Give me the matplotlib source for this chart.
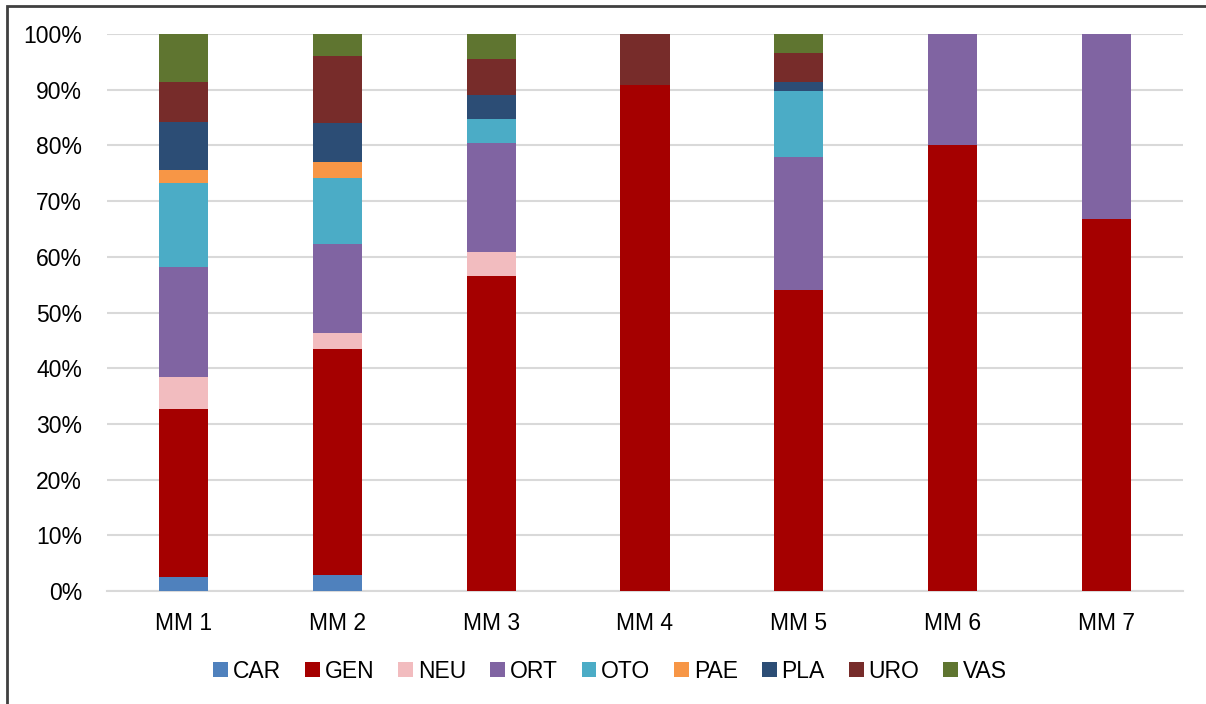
import matplotlib
matplotlib.use("Agg")
import matplotlib.pyplot as plt
import numpy as np
from matplotlib.patches import Rectangle
from matplotlib.ticker import PercentFormatter

plt.rcParams['font.family'] = ['Liberation Sans', 'DejaVu Sans']

categories = ["MM 1", "MM 2", "MM 3", "MM 4", "MM 5", "MM 6", "MM 7"]
specialties = ["CAR", "GEN", "NEU", "ORT", "OTO", "PAE", "PLA", "URO", "VAS"]

# share of procedures (%) per specialty, one list per specialty
CAR = [2.6, 2.8, 0, 0, 0, 0, 0]
GEN = [30.1, 40.7, 56.5, 90.9, 54.1, 80.0, 66.7]
NEU = [5.8, 2.8, 4.3, 0, 0, 0, 0]
ORT = [19.7, 16.0, 19.6, 0, 23.9, 20.0, 33.3]
OTO = [15.1, 11.9, 4.3, 0, 11.8, 0, 0]
PAE = [2.3, 2.9, 0, 0, 0, 0, 0]
PLA = [8.6, 6.9, 4.4, 0, 1.6, 0, 0]
URO = [7.1, 12.0, 6.5, 9.1, 5.2, 0, 0]
VAS = [8.7, 4.0, 4.4, 0, 3.4, 0, 0]

colors = ["#4f81bd", "#a50000", "#f2bcbf", "#8064a2", "#4bacc6",
          "#f79646", "#2c4d75", "#772c2a", "#5f7530"]

series = [CAR, GEN, NEU, ORT, OTO, PAE, PLA, URO, VAS]

fig = plt.figure(figsize=(12.06, 7.04), dpi=100)
ax = fig.add_axes([107 / 1206, 1 - 591 / 704, 1076 / 1206, 557 / 704])

x = np.arange(len(categories))
bottom = np.zeros(len(categories))
for name, vals, c in zip(specialties, series, colors):
    vals = np.array(vals, dtype=float)
    ax.bar(x, vals, 0.32, bottom=bottom, color=c, label=name, zorder=3)
    bottom += vals

ax.set_xlim(-0.5, len(categories) - 0.5)
ax.set_ylim(0, 100)
ax.set_yticks(np.arange(0, 101, 10))
ax.yaxis.set_major_formatter(PercentFormatter(decimals=0))
ax.set_xticks(x)
ax.set_xticklabels(categories)
ax.grid(axis='y', color='#d9d9d9', linewidth=1.5, zorder=0)
for s in ['top', 'right', 'left']:
    ax.spines[s].set_visible(False)
ax.spines['bottom'].set_color('#d9d9d9')
ax.spines['bottom'].set_linewidth(1.5)
ax.tick_params(axis='both', length=0, labelsize=16.5, colors='black')
ax.tick_params(axis='y', pad=18)
ax.tick_params(axis='x', pad=15)

leg = fig.legend(loc='center', bbox_to_anchor=(610 / 1206, 1 - 671 / 704), ncol=9,
                 frameon=False, fontsize=16.5, handlelength=0.65, handleheight=0.65,
                 handletextpad=0.2, columnspacing=1.05)

# outer frame around the chart
fig.patches.append(Rectangle((7 / 1206, -0.05), 1.2, 1 - 6 / 704 + 0.05,
                             transform=fig.transFigure, fill=False,
                             edgecolor='#404040', linewidth=2))

fig.savefig("out.png", dpi=100)
